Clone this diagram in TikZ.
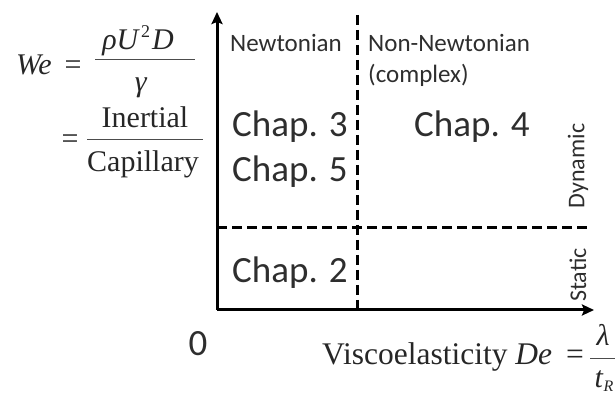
\documentclass[tikz,border=0pt]{standalone}
\usepackage{fontspec}
\setmainfont{Liberation Serif}
\newfontfamily\calibri{Carlito}
\usetikzlibrary{arrows.meta}
\newcommand{\sqr}{\raisebox{0.42em}{\fontsize{18}{18}\selectfont 2}}

\begin{document}
\begin{tikzpicture}[x=1pt, y=1pt,
  axis/.style={line width=3pt, -{Stealth[length=12pt, width=11pt, inset=2pt]}},
  divide/.style={line width=3pt, dash pattern=on 10pt off 5pt},
  chap/.style={font=\calibri\fontsize{37}{40}\selectfont, text=black!82, inner sep=0pt, anchor=base},
  reg/.style={font=\calibri\fontsize{25}{30}\selectfont, text=black!82, inner sep=0pt},
  side/.style={font=\calibri\fontsize{24}{28}\selectfont, text=black!82, rotate=90, inner sep=0pt},
  frm/.style={font=\fontsize{30}{32}\selectfont, text=black!85, inner sep=0pt, anchor=base},
  bar/.style={line width=1pt, black!70}]
\useasboundingbox (0,0) rectangle (615,396);
% axes and dividing lines
\coordinate (O) at (217,86);
\coordinate (ytop) at (217,384);
\coordinate (xend) at (594,86);
\coordinate (vtop) at (357,381);
\coordinate (vbot) at (357,86);
\coordinate (hl) at (217,168);
\coordinate (hr) at (589,168);
\draw[divide] (vtop) -- (vbot);
\draw[divide] (hl) -- (hr);
\draw[axis] (O) -- (ytop);
\draw[axis] (O) -- (xend);
% regions
\node[reg] (newt) at (286,353) {Newtonian};
\node[reg, anchor=west] (nonnewt) at (368,353) {Non-Newtonian};
\node[reg, anchor=west] (cplx) at (368,321) {(complex)};
\node[chap] (ch3) at (290,259) {Chap. 3};
\node[chap] (ch5) at (290,214) {Chap. 5};
\node[chap] (ch4) at (472,259) {Chap. 4};
\node[chap] (ch2) at (290,113) {Chap. 2};
\node[side] (dyn) at (578,230) {Dynamic};
\node[side] (stat) at (578,121) {Static};
\node[chap] (zero) at (198,41) {0};
% Weber number
\node[frm] (we) at (34,321) {\textit{We}};
\node[frm] (eq1) at (73,321) {=};
\node[frm] (num1) at (138,346) {\textit{ρU}\kern1pt\sqr\kern2pt\textit{D}};
\node[frm] (den1) at (141,304) {\textit{γ}};
\coordinate (b1l) at (95,336);
\coordinate (b1r) at (195,336);
\draw[bar] (b1l) -- (b1r);
\node[frm] (eq2) at (70,247) {=};
\node[frm] (num2) at (145,268) {Inertial};
\node[frm] (den2) at (143,224) {Capillary};
\coordinate (b2l) at (87,256);
\coordinate (b2r) at (203,256);
\draw[bar] (b2l) -- (b2r);
% Deborah number
\node[frm, font=\fontsize{31.5}{34}\selectfont, anchor=base west] (de) at (322,32) {Viscoelasticity \textit{De}};
\node[frm, font=\fontsize{31.5}{34}\selectfont] (eq3) at (575,32) {=};
\node[frm] (num3) at (603,50) {\textit{λ}};
\node[frm] (den3) at (604,9) {\textit{t}\raisebox{-0.15em}{\fontsize{16}{16}\selectfont\textit{R}}};
\coordinate (b3l) at (590,38);
\coordinate (b3r) at (615,38);
\draw[bar] (b3l) -- (b3r);
\end{tikzpicture}
\end{document}
